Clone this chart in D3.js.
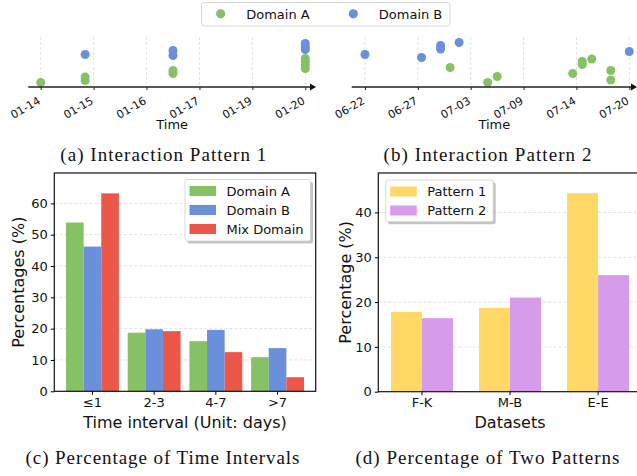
<!DOCTYPE html>
<html>
<head>
<meta charset="utf-8">
<script src="https://cdn.jsdelivr.net/npm/d3@7/dist/d3.min.js"></script>
<style>
  html, body { margin: 0; padding: 0; background: #fff; }
  svg { display: block; }
  text { font-family: "DejaVu Sans", sans-serif; fill: #111; }
  .cap { font-family: "Liberation Serif", "DejaVu Serif", serif; }
</style>
</head>
<body>
<svg id="chart" width="637" height="476"></svg>
<script>
// ---- Interaction timelines (tick index on x, stacking height on y) ----
const timeTicks1 = ["01-14", "01-15", "01-16", "01-17", "01-19", "01-20"];
const timeTicks2 = ["06-22", "06-27", "07-03", "07-09", "07-14", "07-20"];

const pattern1A = [
  {t: 0, h: 0.8}, {t: 0.84, h: 1.2}, {t: 0.84, h: 1.9},
  {t: 2.5, h: 2.6}, {t: 2.5, h: 3.2},
  {t: 5, h: 3.6}, {t: 5, h: 4.3}, {t: 5, h: 5.0}, {t: 5, h: 5.6}
];
const pattern1B = [
  {t: 0.84, h: 6.4},
  {t: 2.5, h: 6.2}, {t: 2.5, h: 7.2},
  {t: 5, h: 7.4}, {t: 5, h: 8.0}, {t: 5, h: 8.6}
];
const pattern2A = [
  {t: 1.61, h: 3.8}, {t: 2.32, h: 0.8}, {t: 2.5, h: 2.0},
  {t: 3.93, h: 2.6}, {t: 4.11, h: 4.4}, {t: 4.11, h: 5.0},
  {t: 4.29, h: 5.5}, {t: 4.65, h: 1.3}, {t: 4.65, h: 3.2}
];
const pattern2B = [
  {t: 0, h: 6.4}, {t: 1.07, h: 5.8}, {t: 1.43, h: 7.5}, {t: 1.43, h: 8.2},
  {t: 1.78, h: 8.8}, {t: 5, h: 7.0}
];

// ---- Time interval distribution ----
const intervalCats = ["\u22641", "2-3", "4-7", ">7"];
const intervalA = [53.9, 18.7, 16.0, 10.9];
const intervalB = [46.2, 19.8, 19.6, 13.8];
const intervalMix = [63.2, 19.2, 12.5, 4.5];
const intervalSeries = ["Domain A", "Domain B", "Mix Domain"];
const intervalTicks = [0, 10, 20, 30, 40, 50, 60];

// ---- Pattern share per dataset ----
const datasetCats = ["F-K", "M-B", "E-E"];
const patternOne = [17.8, 18.7, 44.3];
const patternTwo = [16.4, 21.0, 26.0];
const patternSeries = ["Pattern 1", "Pattern 2"];
const patternTicks = [0, 10, 20, 30, 40];

const GREEN = "#86c166", BLUE = "#6a8fdb", RED = "#eb5749";
const YELLOW = "#ffd866", PURPLE = "#d69bea";

const svg = d3.select("#chart");

// serif sub-figure caption, centred and stretched to its set width
function caption(cx, y, width, label) {
  svg.append("text").attr("class", "cap").attr("x", cx - width / 2).attr("y", y)
    .attr("text-anchor", "start").style("font-size", "19px")
    .attr("textLength", width).attr("lengthAdjust", "spacing").text(label);
}

// ---------- shared legend at the top ----------
(function topLegend() {
  const g = svg.append("g");
  g.append("rect").attr("x", 201.5).attr("y", 2.5).attr("width", 248.5).attr("height", 23.5)
    .attr("rx", 3).attr("fill", "#fff").attr("stroke", "#d6d6d6");
  const items = [{label: "Domain A", c: GREEN, x: 220.7}, {label: "Domain B", c: BLUE, x: 353.3}];
  items.forEach(it => {
    g.append("circle").attr("cx", it.x).attr("cy", 13.8).attr("r", 4.6).attr("fill", it.c);
    g.append("text").attr("x", it.x + 25.5).attr("y", 14).attr("dy", "0.35em")
      .style("font-size", "13px").text(it.label);
  });
})();

// ---------- timeline panels ----------
function timeline(opts) {
  const g = svg.append("g");
  const x = d3.scaleLinear().domain([0, 5]).range([opts.x0, opts.x1]);
  const y = d3.scaleLinear().domain([0, 10]).range([86.5, 36.5]);
  const baseY = 87;

  // dashed verticals
  g.selectAll("line.grid").data(d3.range(6)).join("line")
    .attr("x1", d => x(d)).attr("x2", d => x(d))
    .attr("y1", 37).attr("y2", baseY)
    .attr("stroke", "#dcdcdc").attr("stroke-width", 0.8).attr("stroke-dasharray", "3,2");

  // points
  const drawPts = (data, color) => g.selectAll(null).data(data).join("circle")
    .attr("cx", d => x(d.t)).attr("cy", d => y(d.h)).attr("r", 4.5).attr("fill", color);
  drawPts(opts.a, GREEN);
  drawPts(opts.b, BLUE);

  // axis with arrow
  const axis = d3.axisBottom(x).tickValues(d3.range(6))
    .tickFormat(i => opts.ticks[i]).tickSize(3).tickSizeOuter(0);
  const ax = g.append("g").attr("transform", `translate(0,${baseY})`).call(axis);
  ax.select(".domain").remove();
  ax.selectAll(".tick line").attr("stroke", "#222");
  ax.selectAll(".tick text")
    .style("font-size", "11px").style("font-family", "DejaVu Sans")
    .attr("text-anchor", "end").attr("dy", null).attr("y", 0)
    .attr("transform", "translate(-4,9) rotate(-30)")
    .attr("dominant-baseline", "hanging");
  g.append("line").attr("x1", opts.lineStart).attr("x2", opts.lineEnd - 4)
    .attr("y1", baseY).attr("y2", baseY).attr("stroke", "#222").attr("stroke-width", 1.4);
  g.append("path")
    .attr("d", `M${opts.lineEnd - 6},${baseY - 3.5}L${opts.lineEnd},${baseY}L${opts.lineEnd - 6},${baseY + 3.5}Z`)
    .attr("fill", "#111");

  g.append("text").attr("x", (opts.lineStart + opts.lineEnd) / 2).attr("y", 129)
    .attr("text-anchor", "middle").style("font-size", "13px").text("Time");
  caption(opts.capX, 161, opts.capW, opts.caption);
}

timeline({x0: 40.7, x1: 305.3, lineStart: 28.3, lineEnd: 316, ticks: timeTicks1,
  a: pattern1A, b: pattern1B, capX: 163.3, capW: 206, caption: "(a) Interaction Pattern 1"});
timeline({x0: 365, x1: 629.3, lineStart: 351.7, lineEnd: 637, ticks: timeTicks2,
  a: pattern2A, b: pattern2B, capX: 487.5, capW: 208, caption: "(b) Interaction Pattern 2"});

// ---------- grouped bar charts ----------
function legendBox(g, x, y, w, h, items) {
  g.append("rect").attr("x", x + 2.5).attr("y", y + 2.5).attr("width", w).attr("height", h)
    .attr("rx", 2).attr("fill", "#888").attr("opacity", 0.5);
  g.append("rect").attr("x", x).attr("y", y).attr("width", w).attr("height", h)
    .attr("rx", 2).attr("fill", "#fff").attr("stroke", "#cfcfcf").attr("stroke-width", 0.8);
  items.forEach((it, i) => {
    const cy = y + 11.5 + i * 19;
    g.append("rect").attr("x", x + 4.5).attr("y", cy - 5).attr("width", 26.5).attr("height", 10)
      .attr("fill", it.c);
    g.append("text").attr("x", x + 41.5).attr("y", cy).attr("dy", "0.35em")
      .style("font-size", "13px").text(it.label);
  });
}

function barChart(opts) {
  const g = svg.append("g");
  const x = d3.scaleBand().domain(opts.cats).range([opts.left, opts.right])
    .paddingInner(opts.padIn).paddingOuter(opts.padOut);
  const sub = d3.scaleBand().domain(d3.range(opts.series.length)).range([0, x.bandwidth()]);
  const y = d3.scaleLinear().domain([0, opts.ymax]).range([opts.bottom, opts.top]);

  // dashed horizontal grid
  g.selectAll(null).data(opts.ticks.filter(t => t > 0)).join("line")
    .attr("x1", opts.left).attr("x2", opts.right)
    .attr("y1", d => y(d)).attr("y2", d => y(d))
    .attr("stroke", "#d9d9d9").attr("stroke-width", 0.8).attr("stroke-dasharray", "3,2");

  opts.values.forEach((vals, si) => {
    g.selectAll(null).data(vals).join("rect")
      .attr("x", (d, i) => x(opts.cats[i]) + sub(si))
      .attr("width", sub.bandwidth())
      .attr("y", d => y(d)).attr("height", d => y(0) - y(d))
      .attr("fill", opts.colors[si]);
  });

  // frame
  g.append("rect").attr("x", opts.left).attr("y", opts.top)
    .attr("width", opts.right - opts.left).attr("height", opts.bottom - opts.top)
    .attr("fill", "none").attr("stroke", "#111").attr("stroke-width", 1.2);

  const ya = g.append("g").attr("transform", `translate(${opts.left},0)`)
    .call(d3.axisLeft(y).tickValues(opts.ticks).tickSize(3.5).tickPadding(3));
  ya.select(".domain").remove();
  ya.selectAll("text").style("font-size", "13px").style("font-family", "DejaVu Sans");
  const xa = g.append("g").attr("transform", `translate(0,${opts.bottom})`)
    .call(d3.axisBottom(x).tickSize(3.5).tickPadding(3));
  xa.select(".domain").remove();
  xa.selectAll("text").style("font-size", "13px").style("font-family", "DejaVu Sans");

  g.append("text").attr("transform", `translate(${opts.yLabelX},${(opts.top + opts.bottom) / 2}) rotate(-90)`)
    .attr("text-anchor", "middle").attr("dy", "0.35em").style("font-size", "16px").text(opts.yLabel);
  g.append("text").attr("x", (opts.left + opts.right) / 2).attr("y", 422).attr("dy", "0.35em")
    .attr("text-anchor", "middle").style("font-size", "16px").text(opts.xLabel);
  caption(opts.capX, 464, opts.capW, opts.caption);

  legendBox(g, opts.legend.x, opts.legend.y, opts.legend.w, opts.legend.h,
    opts.series.map((s, i) => ({label: s, c: opts.colors[i]})));
}

barChart({
  cats: intervalCats, series: intervalSeries,
  values: [intervalA, intervalB, intervalMix], colors: [GREEN, BLUE, RED],
  left: 54.3, right: 315.7, top: 173, bottom: 391.3, ymax: 69.7,
  padIn: 0.143, padOut: 0.19, ticks: intervalTicks,
  yLabel: "Percentages (%)", yLabelX: 18, xLabel: "Time interval (Unit: days)",
  capX: 162.5, capW: 274, caption: "(c) Percentage of Time Intervals",
  legend: {x: 185, y: 179.5, w: 125.5, h: 61.5}
});

barChart({
  cats: datasetCats, series: patternSeries,
  values: [patternOne, patternTwo], colors: [YELLOW, PURPLE],
  left: 378.3, right: 641.8, top: 173, bottom: 391.7, ymax: 48.8,
  padIn: 0.295, padOut: 0.144, ticks: patternTicks,
  yLabel: "Percentage (%)", yLabelX: 345, xLabel: "Datasets",
  capX: 487.5, capW: 264, caption: "(d) Percentage of Two Patterns",
  legend: {x: 385.7, y: 180, w: 107.5, h: 41.7}
});
</script>
</body>
</html>
